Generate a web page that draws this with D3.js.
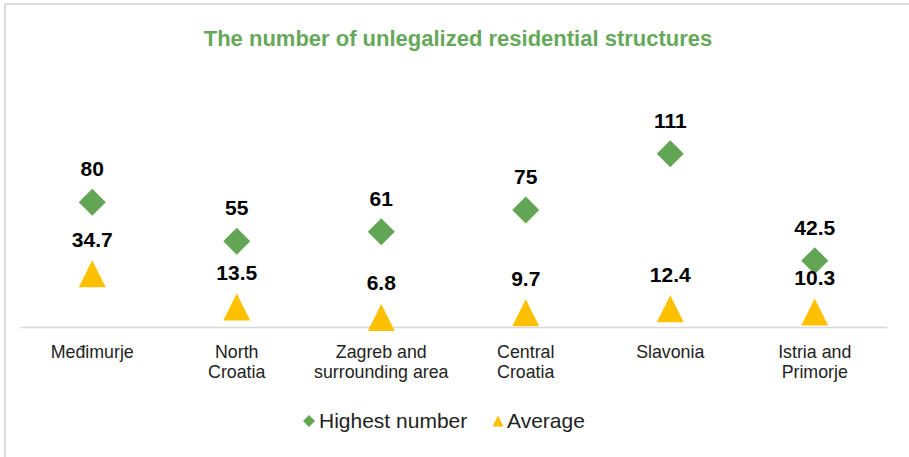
<!DOCTYPE html>
<html><head><meta charset="utf-8">
<script src="https://cdn.jsdelivr.net/npm/d3@7"></script>
<style>html,body{margin:0;padding:0;background:#fff}svg{display:block}</style>
</head><body>
<svg id="chart" width="909" height="457"></svg>
<script>
const categories = [["Međimurje"],["North","Croatia"],["Zagreb and","surrounding area"],["Central","Croatia"],["Slavonia"],["Istria and","Primorje"]];
const highestNumber = [80, 55, 61, 75, 111, 42.5];
const average = [34.7, 13.5, 6.8, 9.7, 12.4, 10.3];
const highestLabels = ["80","55","61","75","111","42.5"];
const averageLabels = ["34.7","13.5","6.8","9.7","12.4","10.3"];
const seriesNames = ["Highest number","Average"];
const title = "The number of unlegalized residential structures";

const GREEN = "#62a554", YELLOW = "#ffc000", FONT = "Liberation Sans, Arial, sans-serif";
const svg = d3.select("#chart");

// frame
svg.append("line").attr("x1",5).attr("x2",909).attr("y1",4).attr("y2",4).attr("stroke","#d9d9d9").attr("stroke-width",2);
svg.append("line").attr("x1",5).attr("x2",5).attr("y1",4).attr("y2",457).attr("stroke","#d9d9d9").attr("stroke-width",2);

svg.append("text").attr("x",458).attr("y",46).attr("text-anchor","middle")
  .attr("font-family",FONT).attr("font-weight","bold").attr("font-size",22).attr("fill","#66a85a").text(title);

const idx = d3.range(categories.length);
const x = d3.scaleBand().domain(idx).range([20, 887]);
const y = d3.scaleLinear().domain([0, 120]).range([327, 139.8]);

// baseline axis
const axis = svg.append("g").attr("transform","translate(0,327)")
  .call(d3.axisBottom(x).tickSize(0).tickFormat(""));
axis.select(".domain").attr("stroke","#d9d9d9").attr("stroke-width",1.5);

// category labels
const cx = i => x(i) + x.bandwidth()/2;
idx.forEach(i => {
  const t = svg.append("text").attr("text-anchor","middle").attr("font-family",FONT)
    .attr("font-size",17.8).attr("fill","#222");
  categories[i].forEach((ln, k) => t.append("tspan").attr("x",cx(i)).attr("y",358 + k*20).text(ln));
});

const diamond = d3.symbol().type(d3.symbolSquare).size(27*27/2);
const tri = (cxp, cyp, w, h) => `M${cxp},${cyp-h/2}L${cxp+w/2},${cyp+h/2}L${cxp-w/2},${cyp+h/2}Z`;

// Average series
idx.forEach(i => {
  svg.append("path").attr("d", tri(cx(i), y(average[i]) + 1, 27, 27)).attr("fill",YELLOW);
});
// Highest series
idx.forEach(i => {
  svg.append("path").attr("d", diamond()).attr("transform",`translate(${cx(i)},${y(highestNumber[i])}) rotate(45)`).attr("fill",GREEN);
});
// labels
const lab = (xx, yy, s) => svg.append("text").attr("x",xx).attr("y",yy).attr("text-anchor","middle")
  .attr("font-family",FONT).attr("font-weight","bold").attr("font-size",21).attr("fill","#000").text(s);
idx.forEach(i => { lab(cx(i), y(highestNumber[i]) - 26, highestLabels[i]); });
idx.forEach(i => { lab(cx(i), y(average[i]) - 26, averageLabels[i]); });

// legend
svg.append("path").attr("d", d3.symbol().type(d3.symbolSquare).size(72)()).attr("transform","translate(309,421) rotate(45)").attr("fill",GREEN);
svg.append("text").attr("x",319).attr("y",428).attr("font-family",FONT).attr("font-size",21).attr("fill","#222").text(seriesNames[0]);
svg.append("path").attr("d", tri(498, 421, 11, 11)).attr("fill",YELLOW);
svg.append("text").attr("x",507).attr("y",428).attr("font-family",FONT).attr("font-size",21).attr("fill","#222").text(seriesNames[1]);
</script>
</body></html>
